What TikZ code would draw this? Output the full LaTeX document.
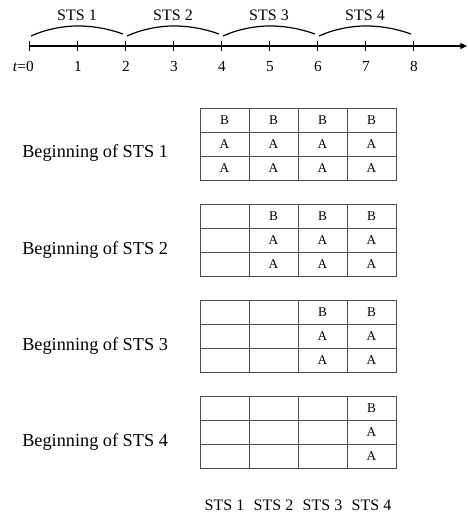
\documentclass[tikz,border=0pt]{standalone}
\usepackage{fontspec}
\setmainfont{Liberation Serif}
\usetikzlibrary{arrows.meta}
\begin{document}
\begin{tikzpicture}[x=0.75pt,y=-0.75pt,
  cell/.style={draw=black!70, line width=0.6pt, minimum width=36.75pt, minimum height=18pt, inner sep=0pt, font=\fontsize{10}{12}\selectfont},
  lbl/.style={anchor=base west, inner sep=0pt, font=\fontsize{13.7}{16}\selectfont},
  num/.style={anchor=base, inner sep=0pt, font=\fontsize{11.5}{13}\selectfont},
  sts/.style={anchor=base, inner sep=0pt, font=\fontsize{12}{14}\selectfont}]
\useasboundingbox (0,0) rectangle (467,513);
% time axis
\coordinate (t0) at (29,46);
\coordinate (tend) at (467,46);
\draw[line width=0.8pt, -{Triangle[length=5pt,width=4.5pt]}] (t0) -- (tend);
\foreach \i in {0,...,8} {
  \coordinate (k\i) at (29+48*\i,46);
  \draw[line width=0.6pt] (k\i) ++(0,-5) -- ++(0,10);
}
\node[num, anchor=base east] (n0) at (34,71.5) {\textit{t}=0};
\foreach \i in {1,...,8}
  \node[num] (n\i) at (30+48*\i,71.5) {\i};
% short-term stages
\foreach \i in {1,...,4} {
  \coordinate (u\i) at (96*\i-65,36);
  \coordinate (v\i) at (96*\i+27,34);
  \draw[line width=0.9pt] (u\i) .. controls +(29,-13) and +(-31,-11) .. (v\i);
  \node[sts] (s\i) at (96*\i-19,20.5) {STS \i};
}
% tables
\foreach \k in {1,...,4} {
  \node[lbl] (b\k) at (22,62+96*\k) {Beginning of STS \k};
  \foreach \j in {1,...,4} {
    \node[cell] (c\k\j1) at (175.5+49*\j,24+96*\k) {\ifnum\j<\k\relax\else B\fi};
    \node[cell] (c\k\j2) at (175.5+49*\j,48+96*\k) {\ifnum\j<\k\relax\else A\fi};
    \node[cell] (c\k\j3) at (175.5+49*\j,72+96*\k) {\ifnum\j<\k\relax\else A\fi};
  }
}
\foreach \j in {1,...,4}
  \node[sts] (f\j) at (175.5+49*\j,510) {STS \j};
\end{tikzpicture}
\end{document}
